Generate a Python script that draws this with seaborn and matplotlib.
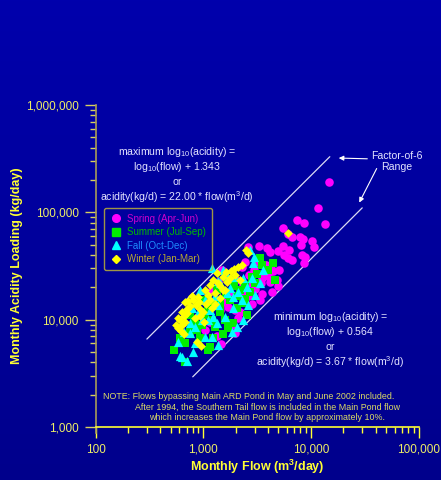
import numpy as np
import pandas as pd
import matplotlib
matplotlib.use("Agg")
import matplotlib.pyplot as plt
from matplotlib.lines import Line2D
from matplotlib.colors import LinearSegmentedColormap
from matplotlib.ticker import FuncFormatter, LogLocator, NullFormatter
import seaborn as sns

# monthly flow (m3/day) and acidity loading (kg/day)
spring_flow = [14700, 11600, 13500, 7450, 8600, 5500, 6100, 6700, 7900, 8450,
               8100, 10300, 10700, 5500, 6250, 2600, 3300, 3900, 4170, 4950,
               5600, 6150, 6700, 8250, 8800, 8600, 3830, 4260, 4450, 5050,
               4000, 4170, 4360, 3520, 3370, 2340, 2450, 2610, 3750, 3520,
               3440, 2780, 3030, 2300, 2960, 4850, 4950, 1770, 1590, 1700,
               1430, 1290, 1970, 2830, 2110, 1850, 2450, 3090, 2660, 2020,
               1200, 1370, 1490, 1160, 1040, 1330, 1460, 2200, 1970]
spring_acid = [192000, 110000, 78000, 85000, 79500, 71500, 63000, 59000, 59000, 56500,
               49700, 54100, 47500, 48600, 44600, 47500, 48600, 46500, 42700, 43700,
               40100, 37600, 36000, 40100, 38400, 33800, 32400, 32400, 28400, 29000,
               25600, 22400, 18100, 17300, 15300, 21100, 18100, 16600, 27800, 24500,
               22000, 22000, 19300, 31000, 29000, 23400, 20600, 16600, 14600, 13100,
               12300, 13700, 12300, 14000, 10400, 8900, 34500, 34500, 26100, 23400,
               18900, 22400, 29000, 9500, 8000, 7050, 5940, 11800, 7500]

summer_flow = [4450, 3520, 4640, 3160, 3370, 2830, 2450, 2200, 2060, 2450,
               2720, 1770, 1620, 1430, 1240, 1430, 1590, 1900, 1700, 1290,
               1530, 1240, 1160, 975, 875, 1210, 1040, 1100, 2060, 2550,
               2340, 930, 750, 680, 610, 535, 680, 1100, 840, 750,
               1930, 4000, 3030, 1340, 1000]
summer_acid = [33800, 32400, 23400, 26700, 37600, 25000, 21100, 18900, 16600, 15600,
               18100, 15300, 17000, 14000, 14300, 11800, 9940, 9300, 8350, 8550,
               7350, 6750, 5580, 8930, 8020, 9940, 11100, 12800, 12800, 11100,
               14300, 6750, 7700, 6060, 6750, 5220, 4040, 5220, 9520, 11100,
               20600, 29000, 22000, 18900, 15300]

fall_flow = [2960, 2890, 2340, 1970, 1700, 1530, 1210, 1370, 2830, 2550,
             2110, 1890, 3030, 1430, 1770, 2290, 1890, 1370, 1660, 1590,
             2060, 2340, 1340, 1850, 640, 710, 805, 840, 1040, 1210,
             1370, 660, 750, 840, 975, 1100, 1240, 750, 610, 890,
             1160, 1040, 1290, 2610, 3370, 3600, 930, 790, 585, 2720]
fall_acid = [38400, 33800, 24500, 25000, 25000, 29000, 30300, 22900, 24500, 20200,
             18100, 16300, 17000, 22000, 19700, 15300, 12800, 13700, 17700, 10600,
             8550, 9940, 9300, 7700, 4500, 4130, 5000, 6060, 6900, 6900,
             5810, 7700, 7520, 8550, 9940, 9940, 10600, 9300, 4590, 11600,
             12300, 15300, 16600, 13700, 22000, 29000, 18900, 12800, 6200, 44600]

winter_flow = [2610, 2500, 2290, 2110, 1930, 1810, 1620, 1530, 1340, 1240,
               1370, 1290, 1530, 1430, 1160, 1040, 1100, 890, 805, 725,
               680, 750, 860, 930, 1000, 1060, 1160, 1210, 930, 840,
               710, 660, 610, 640, 585, 625, 665, 680, 585, 870,
               955, 6140, 1660, 1770, 1430, 1290, 1020, 1590, 1970, 2200,
               790, 910, 710, 640, 560]
winter_acid = [41800, 44600, 32400, 31000, 29600, 28400, 27800, 25000, 27200, 23400,
               22000, 17700, 18900, 20600, 21100, 18900, 17000, 16300, 15300, 14900,
               14600, 13400, 13700, 12600, 11800, 14000, 15300, 12800, 10800, 10400,
               11600, 10800, 9940, 8930, 8350, 7850, 7350, 9520, 10400, 6200,
               5690, 64200, 22400, 24500, 15900, 14000, 9520, 18900, 26100, 23400,
               16600, 14600, 12600, 11800, 8930]

seasons = ["Spring (Apr-Jun)", "Summer (Jul-Sep)", "Fall (Oct-Dec)", "Winter (Jan-Mar)"]
flows = [spring_flow, summer_flow, fall_flow, winter_flow]
acids = [spring_acid, summer_acid, fall_acid, winter_acid]

# factor-of-6 envelope
max_coef = 22.00
min_coef = 3.67
max_line_flow = [300, 15000]
min_line_flow = [800, 30000]

marker_colors = ["#ff00ff", "#00ee00", "#00ffff", "#ffff00"]
label_colors = ["#cc00cc", "#00bb00", "#1e8cff", "#b8a830"]
markers = ["o", "s", "^", "D"]
sizes = [38, 34, 44, 20]

df = pd.concat([pd.DataFrame({"flow": f, "acidity": a, "season": s})
                for f, a, s in zip(flows, acids, seasons)], ignore_index=True)

sns.set_style("white")
plt.rcParams['font.family'] = ['Liberation Sans', 'DejaVu Sans']
plt.rcParams['mathtext.fontset'] = 'custom'
plt.rcParams['mathtext.rm'] = 'Liberation Sans'
plt.rcParams['mathtext.it'] = 'Liberation Sans:italic'
plt.rcParams['mathtext.bf'] = 'Liberation Sans:bold'

fig = plt.figure(figsize=(4.41, 4.80), dpi=100)

# dark blue background with a slight vertical fade
bg = fig.add_axes([0, 0, 1, 1], zorder=0)
grad = np.linspace(1, 0, 256).reshape(-1, 1)
cmap = LinearSegmentedColormap.from_list("bg", ["#00008c", "#0000ac"])
bg.imshow(grad, aspect="auto", cmap=cmap, extent=[0, 1, 0, 1])
bg.axis("off")

ax = fig.add_axes([0.2166, 0.1104, 0.7324, 0.6708], zorder=1)
ax.set_facecolor("none")

line_col = "#dcdcf4"
x = np.array(max_line_flow, dtype=float)
ax.plot(x, max_coef * x, color=line_col, lw=0.9)
x = np.array(min_line_flow, dtype=float)
ax.plot(x, min_coef * x, color=line_col, lw=0.9)

for s, m, c, sz in zip(seasons, markers, marker_colors, sizes):
    sns.scatterplot(data=df[df.season == s], x="flow", y="acidity", marker=m,
                    color=c, s=sz, linewidth=0, ax=ax, legend=False, zorder=3)

ax.set_xscale("log")
ax.set_yscale("log")
ax.set_xlim(100, 100000)
ax.set_ylim(1000, 1000000)
fmt = FuncFormatter(lambda v, p: f"{v:,.0f}")
for axis in (ax.xaxis, ax.yaxis):
    axis.set_major_locator(LogLocator(base=10))
    axis.set_minor_locator(LogLocator(base=10, subs=np.arange(2, 10)))
    axis.set_major_formatter(fmt)
    axis.set_minor_formatter(NullFormatter())
ax.set_xlabel("")
ax.set_ylabel("")

tick_col = "#eeee66"
ax.tick_params(axis="both", which="both", bottom=True, left=True, top=False, right=False)
ax.tick_params(axis="both", which="major", direction="out", length=8, width=1,
               labelsize=8.5, labelcolor=tick_col)
ax.tick_params(axis="both", which="minor", direction="out", length=4, width=1)
ax.tick_params(axis="x", which="both", color="#ffff33", pad=4)
ax.tick_params(axis="y", which="both", color="#d8d060", pad=4)
for side in ("top", "right"):
    ax.spines[side].set_visible(False)
ax.spines["bottom"].set_color("#ffff33")
ax.spines["left"].set_color("#a89c58")
ax.spines["bottom"].set_linewidth(1.2)
ax.spines["left"].set_linewidth(1.2)
ax.spines["left"].set_bounds(870, 1000000)

fig.text(257 / 441, 1 - 467 / 480, r"Monthly Flow (m$^\mathbf{3}$/day)",
         ha="center", va="center", fontsize=9, fontweight="bold", color="#ffff33")
fig.text(17 / 441, 1 - 266 / 480, "Monthly Acidity Loading (kg/day)", rotation=90,
         ha="center", va="center", fontsize=9, fontweight="bold", color="#ffff33")

eq_col = "#e4e4ff"
max_lines = [r"maximum log$_{10}$(acidity) =", r"log$_{10}$(flow) + 1.343", "or",
             r"acidity(kg/d) = 22.00 * flow(m$^3$/d)"]
for i, t in enumerate(max_lines):
    ax.text(0.252, 0.854 - i * 0.0465, t, transform=ax.transAxes, ha="center",
            va="center", fontsize=7.6, color=eq_col)
min_lines = [r"minimum log$_{10}$(acidity) =", r"log$_{10}$(flow) + 0.564", "or",
             r"acidity(kg/d) = 3.67 * flow(m$^3$/d)"]
for i, t in enumerate(min_lines):
    ax.text(0.727, 0.342 - i * 0.0465, t, transform=ax.transAxes, ha="center",
            va="center", fontsize=7.6, color=eq_col)

ax.text(63000, 300000, "Factor-of-6\nRange", ha="center", va="center",
        fontsize=7.6, color=eq_col, linespacing=1.1)
arrow = dict(arrowstyle="-|>", color="white", lw=0.8, mutation_scale=7)
ax.annotate("", xy=(17100, 321000), xytext=(35500, 315000), arrowprops=arrow)
ax.annotate("", xy=(27400, 117000), xytext=(42000, 270000), arrowprops=arrow)

note_col = "#dcdc64"
ax.text(0.023, 0.096, "NOTE: Flows bypassing Main ARD Pond in May and June 2002 included.",
        transform=ax.transAxes, ha="left", va="center", fontsize=6.4, color=note_col)
ax.text(0.531, 0.062, "After 1994, the Southern Tail flow is included in the Main Pond flow",
        transform=ax.transAxes, ha="center", va="center", fontsize=6.4, color=note_col)
ax.text(0.531, 0.031, "which increases the Main Pond flow by approximately 10%.",
        transform=ax.transAxes, ha="center", va="center", fontsize=6.4, color=note_col)

handles = [Line2D([], [], marker=m, color=c, linestyle="none", markersize=ms)
           for m, c, ms in zip(markers, marker_colors, [5.5, 5.5, 6, 4.2])]
leg = ax.legend(handles, seasons, loc="upper left", bbox_to_anchor=(0.026, 0.68),
                borderaxespad=0, frameon=True, fancybox=True, fontsize=7,
                labelcolor=label_colors, handlelength=1.2, handletextpad=0.6,
                labelspacing=0.35, borderpad=0.6)
leg.get_frame().set_facecolor("none")
leg.get_frame().set_edgecolor("#c8bc30")
leg.get_frame().set_linewidth(1.0)

fig.savefig("out.png", dpi=100)
